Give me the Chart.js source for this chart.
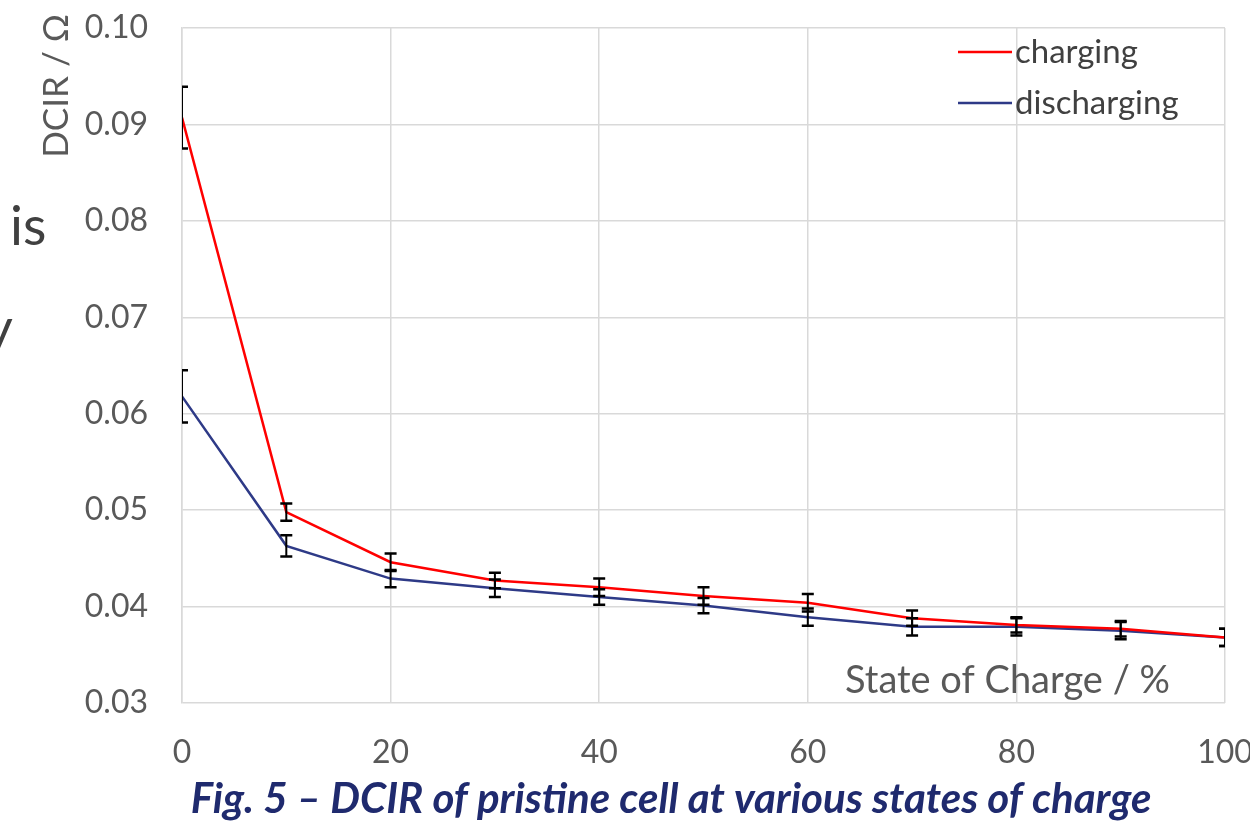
<!DOCTYPE html>
<html>
<head>
<meta charset="utf-8">
<script src="https://cdn.jsdelivr.net/npm/chart.js@4.4.0/dist/chart.umd.min.js"></script>
<style>
  html, body { margin: 0; padding: 0; background: #fff; }
  #wrap { width: 1250px; height: 823px; position: relative; }
</style>
</head>
<body>
<div id="wrap"><canvas id="chart" width="1250" height="823"></canvas></div>
<script>
// values
const soc = [0, 10, 20, 30, 40, 50, 60, 70, 80, 90, 100];
const chargingDcir = [0.0907, 0.0498, 0.0446, 0.0427, 0.0420, 0.0411, 0.0404, 0.0388, 0.0381, 0.0377, 0.0368];
const chargingErr = [0.0032, 0.0009, 0.0009, 0.0008, 0.0009, 0.0009, 0.0009, 0.0008, 0.0008, 0.0008, 0.0009];
const dischargingDcir = [0.0618, 0.0463, 0.0429, 0.0419, 0.0410, 0.0401, 0.0389, 0.0379, 0.0379, 0.0375, 0.0368];
const dischargingErr = [0.0027, 0.0011, 0.0009, 0.0009, 0.0008, 0.0008, 0.0009, 0.0009, 0.0009, 0.0009, 0.0009];
const yTicks = [0.03, 0.04, 0.05, 0.06, 0.07, 0.08, 0.09, 0.10];
const xTicks = [0, 20, 40, 60, 80, 100];

const font = 'Lato, "Open Sans", sans-serif';
const grey = '#595959';

function pts(ys) {
    return soc.map((s, i) => ({x: s, y: ys[i]}));
}

// no extra room for overhanging tick labels
function noPad(s) {
    s.paddingTop = 0; s.paddingBottom = 0;
    s.paddingLeft = 0; s.paddingRight = 0;
}

// excel style error bars, clipped by the plot area
const errorBars = {
    id: 'errorBars',
    afterDatasetsDraw(chart) {
        const ctx = chart.ctx, a = chart.chartArea;
        const xs = chart.scales.x, ys = chart.scales.y;
        ctx.save();
        ctx.beginPath();
        ctx.rect(a.left, a.top, a.right - a.left, a.bottom - a.top);
        ctx.clip();
        ctx.strokeStyle = '#000';
        chart.data.datasets.forEach(ds => {
            ds.data.forEach((p, i) => {
                const e = ds.errors[i];
                const x = xs.getPixelForValue(p.x);
                const t = ys.getPixelForValue(p.y + e);
                const b = ys.getPixelForValue(p.y - e);
                ctx.lineWidth = 2;
                ctx.beginPath();
                ctx.moveTo(x, t); ctx.lineTo(x, b);
                ctx.stroke();
                ctx.lineWidth = 2.5;
                ctx.beginPath();
                ctx.moveTo(x - 6, t); ctx.lineTo(x + 6, t);
                ctx.moveTo(x - 6, b); ctx.lineTo(x + 6, b);
                ctx.stroke();
            });
        });
        ctx.restore();
    }
};

// legend, axis titles, caption and the cut-off text on the left
const texts = {
    id: 'texts',
    afterDraw(chart) {
        const ctx = chart.ctx;
        ctx.save();
        // legend
        chart.data.datasets.forEach((ds, i) => {
            const y = 52 + i * 51;
            ctx.strokeStyle = ds.borderColor;
            ctx.lineWidth = 2.5;
            ctx.beginPath();
            ctx.moveTo(958, y); ctx.lineTo(1012, y);
            ctx.stroke();
            ctx.fillStyle = '#404040';
            ctx.font = '33px ' + font;
            ctx.textBaseline = 'middle';
            ctx.textAlign = 'left';
            ctx.fillText(ds.label, 1015, y);
        });
        // x title inside plot
        ctx.fillStyle = grey;
        ctx.font = '38px ' + font;
        ctx.textAlign = 'right';
        ctx.textBaseline = 'middle';
        ctx.fillText('State of Charge / %', 1170, 681);
        // y title
        ctx.save();
        ctx.font = '35px ' + font;
        ctx.translate(57, 14);
        ctx.rotate(-Math.PI / 2);
        ctx.textAlign = 'right';
        ctx.fillText('DCIR / Ω', 0, 0);
        ctx.restore();
        // caption
        ctx.fillStyle = '#1F2A6E';
        ctx.font = 'italic bold 42px ' + font;
        ctx.textAlign = 'center';
        ctx.fillText('Fig. 5 – DCIR of pristine cell at various states of charge', 671, 799);
        // page text cut off at the left edge
        ctx.fillStyle = '#404040';
        ctx.font = '54px ' + font;
        ctx.textAlign = 'left';
        ctx.fillText('is', 10, 228);
        ctx.fillText('y', -15, 330);
        ctx.restore();
    }
};

new Chart(document.getElementById('chart'), {
    type: 'line',
    data: {
        datasets: [{
            label: 'charging',
            data: pts(chargingDcir),
            errors: chargingErr,
            borderColor: '#FF0000',
            borderWidth: 2.5,
            pointRadius: 0,
            tension: 0
        }, {
            label: 'discharging',
            data: pts(dischargingDcir),
            errors: dischargingErr,
            borderColor: '#2E3A87',
            borderWidth: 2.5,
            pointRadius: 0,
            tension: 0
        }]
    },
    options: {
        responsive: false,
        animation: false,
        layout: {padding: {top: 28, right: 25, left: 0, bottom: 0}},
        plugins: {legend: {display: false}, tooltip: {enabled: false}},
        scales: {
            x: {
                type: 'linear',
                min: 0, max: 100,
                afterFit: s => { s.height = 120; noPad(s); },
                afterBuildTicks: s => { s.ticks = xTicks.map(v => ({value: v})); },
                grid: {color: '#d9d9d9', lineWidth: 1.5, drawTicks: false},
                border: {display: false},
                ticks: {color: grey, font: {family: font, size: 32}, padding: 30}
            },
            y: {
                min: 0.03, max: 0.10,
                afterFit: s => { s.width = 182; noPad(s); },
                afterBuildTicks: s => { s.ticks = yTicks.map(v => ({value: v})); },
                grid: {color: '#d9d9d9', lineWidth: 1.5, drawTicks: false},
                border: {color: '#d9d9d9', width: 1.5},
                ticks: {color: grey, font: {family: font, size: 32}, padding: 34,
                        callback: v => v.toFixed(2)}
            }
        }
    },
    plugins: [errorBars, texts]
});
</script>
</body>
</html>
